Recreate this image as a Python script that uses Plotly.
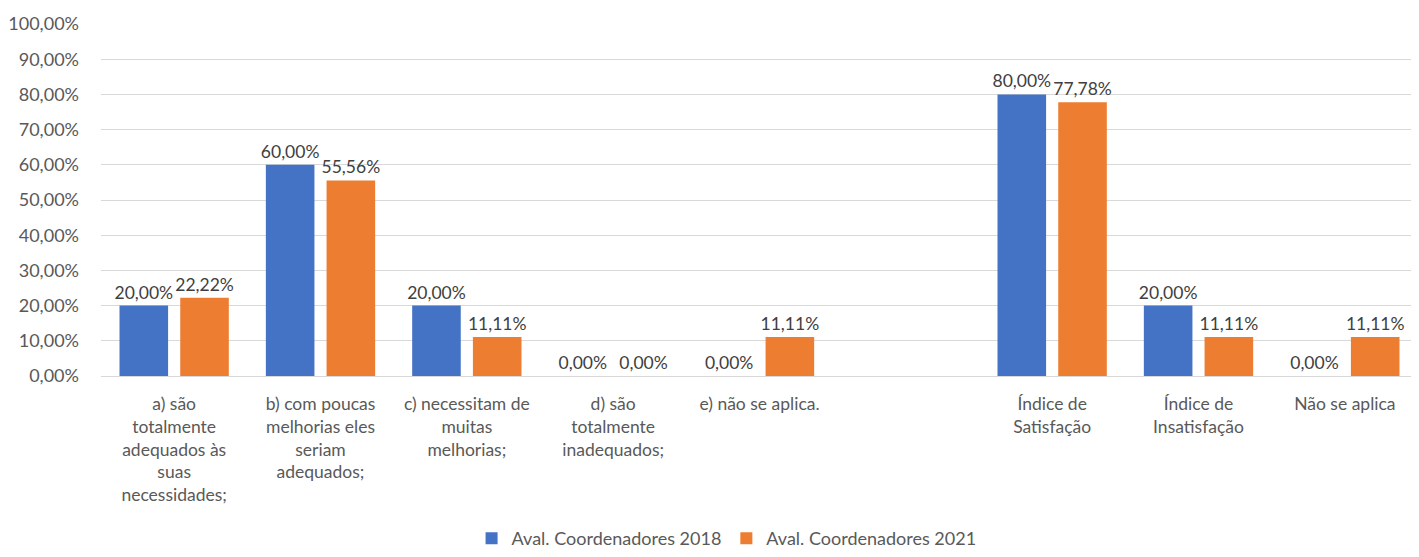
import plotly.graph_objects as go

categories = [
    "a) são<br>totalmente<br>adequados às<br>suas<br>necessidades;",
    "b) com poucas<br>melhorias eles<br>seriam<br>adequados;",
    "c) necessitam de<br>muitas<br>melhorias;",
    "d) são<br>totalmente<br>inadequados;",
    "e) não se aplica.",
    " ",
    "Índice de<br>Satisfação",
    "Índice de<br>Insatisfação",
    "Não se aplica",
]
vals_2018 = [0.20, 0.60, 0.20, 0.00, 0.00, None, 0.80, 0.20, 0.00]
vals_2021 = [0.2222, 0.5556, 0.1111, 0.00, 0.1111, None, 0.7778, 0.1111, 0.1111]
series_names = ["Aval. Coordenadores 2018", "Aval. Coordenadores 2021"]
colors = ["#4472C4", "#ED7D31"]

FONT = "Lato"

fig = go.Figure()
for name, vals, col in zip(series_names, [vals_2018, vals_2021], colors):
    fig.add_trace(go.Bar(
        x=categories, y=vals, name=name,
        marker=dict(color=col, line=dict(width=16, color="rgba(0,0,0,0)")),
        texttemplate="%{y:.2%}", textposition="outside",
        textfont=dict(family=FONT, size=17.5, color="#404040"),
        constraintext="none", cliponaxis=False,
    ))

fig.update_layout(
    width=1411, height=549,
    paper_bgcolor="white", plot_bgcolor="white",
    margin=dict(l=93, r=1, t=16, b=181),
    barmode="group", bargap=0.17, bargroupgap=0.2,
    separators=", ",
    font=dict(family=FONT, size=17, color="#595959"),
    legend=dict(orientation="h", x=0.475, xanchor="center",
                yref="container", y=0.0, yanchor="bottom",
                font=dict(family=FONT, size=18, color="#595959"), itemwidth=30,
                traceorder="normal"),
    showlegend=True,
)
fig.update_yaxes(range=[0, 1], dtick=0.1, tickformat=".2%",
                 gridcolor="#D9D9D9", gridwidth=1, zeroline=False,
                 showline=False, ticklabelstandoff=21, automargin=False,
                 tickfont=dict(family=FONT, size=18, color="#595959"))
fig.update_xaxes(showline=True, linecolor="#D9D9D9", linewidth=1, automargin=False,
                 tickfont=dict(family=FONT, size=17.5, color="#595959"),
                 ticklabelstandoff=12)

fig.write_html("out.html")
